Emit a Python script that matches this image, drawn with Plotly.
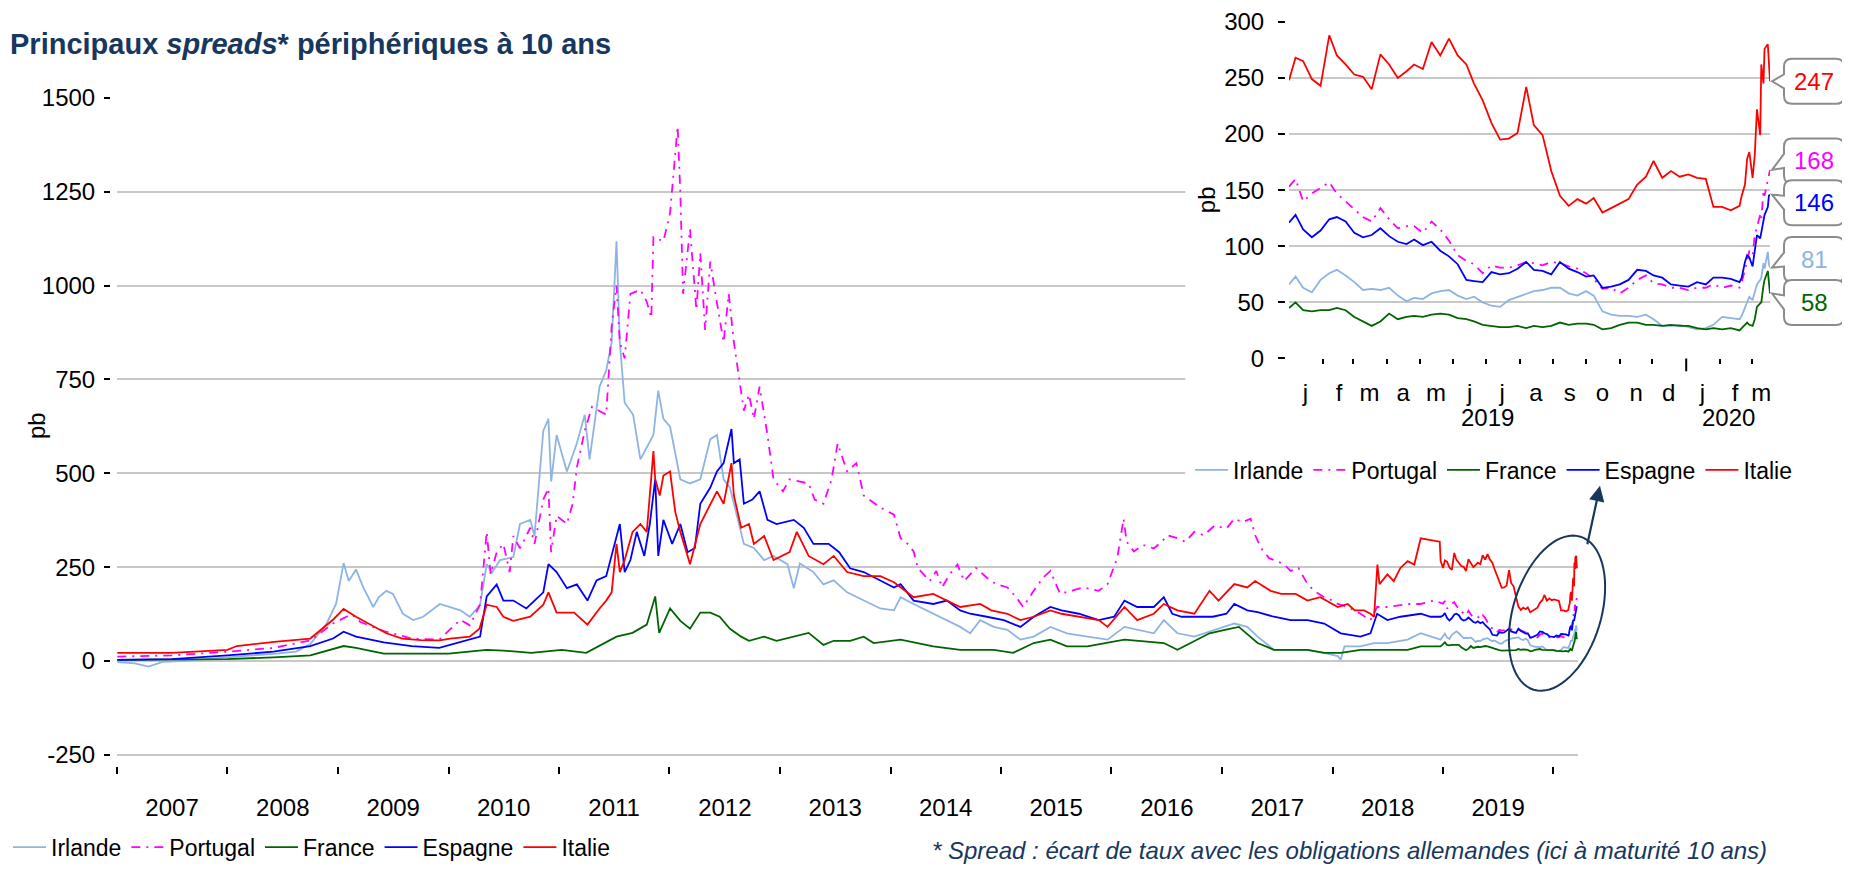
import numpy as np
import plotly.graph_objects as go

# page is 1850x869; the html body keeps an 8px margin, so the figure is sized to fit inside it
PAGE_W, PAGE_H, BODY = 1850, 869, 8
W, H = PAGE_W - BODY, PAGE_H - BODY
FONT = "Liberation Sans, Arial, sans-serif"

SERIES = ["Irlande", "Portugal", "France", "Espagne", "Italie"]
COLORS = {"Irlande": "#8DB4E2", "Portugal": "#FF00FF", "France": "#006400",
          "Espagne": "#0000FF", "Italie": "#FF0000"}

# ---------------- main chart readings 2007-2018 (date, spread in pb) ----------------
irl_main = [("2007-01-02",-3),("2007-03-01",-6),("2007-04-15",-15),("2007-06-01",-2),("2007-08-01",0),("2007-11-01",5),
 ("2008-02-01",12),("2008-06-12",20),("2008-08-15",25),("2008-10-01",45),("2008-11-24",100),("2008-12-25",152),
 ("2009-01-19",261),("2009-02-05",213),("2009-03-01",244),("2009-03-25",196),("2009-04-27",144),("2009-05-15",170),
 ("2009-06-09",187),("2009-07-01",179),("2009-08-03",126),("2009-09-06",109),("2009-10-09",118),("2009-12-03",152),
 ("2010-01-06",144),("2010-02-09",135),("2010-03-12",118),("2010-04-15",150),("2010-05-07",258),("2010-05-25",236),
 ("2010-06-20",269),("2010-07-22",275),("2010-08-03",277),("2010-08-25",365),("2010-09-28",376),("2010-10-12",333),
 ("2010-11-10",613),("2010-11-27",645),("2010-12-06",478),("2010-12-24",602),("2011-01-27",505),("2011-03-01",580),
 ("2011-03-27",656),("2011-04-12",537),("2011-05-15",731),("2011-06-06",774),("2011-06-24",849),("2011-07-10",1118),
 ("2011-07-21",849),("2011-08-06",688),("2011-09-03",656),("2011-09-27",537),("2011-10-18",570),("2011-11-09",602),
 ("2011-11-25",720),("2011-12-12",645),("2012-01-03",624),("2012-02-06",484),("2012-03-09",473),("2012-04-12",484),
 ("2012-05-15",591),("2012-06-06",602),("2012-06-28",484),("2012-07-19",462),("2012-09-03",312),("2012-10-06",301),
 ("2012-11-09",269),("2012-12-10",280),("2013-01-25",258),("2013-02-15",194),("2013-03-07",260),("2013-04-21",237),
 ("2013-05-24",204),("2013-06-27",215),("2013-08-10",183),("2013-10-04",161),("2013-11-28",140),("2014-01-12",135),
 ("2014-02-03",170),("2014-03-18",152),("2014-05-22",126),("2014-07-06",109),("2014-08-19",91),("2014-09-21",74),
 ("2014-10-24",109),("2014-12-08",91),("2015-01-22",83),("2015-03-06",57),("2015-04-19",65),("2015-06-13",91),
 ("2015-08-07",74),("2015-10-13",65),("2015-12-19",57),("2016-02-13",91),("2016-03-26",83),("2016-05-20",74),
 ("2016-06-22",109),("2016-08-06",74),("2016-10-01",65),("2016-12-07",83),("2017-02-10",100),("2017-03-25",91),
 ("2017-04-28",65),("2017-06-21",30),("2017-08-15",30),("2017-10-10",30),("2017-12-04",22),("2018-01-18",13),
 ("2018-01-28",4),("2018-02-09",39),("2018-04-03",39),("2018-05-18",48),("2018-07-01",48),("2018-09-06",57),
 ("2018-10-19",74),("2018-12-24",57)]

prt_main = [("2007-01-02",12),("2007-07-01",15),("2008-01-01",25),("2008-06-01",35),("2008-10-01",55),("2008-12-15",100),
 ("2009-02-15",125),("2009-03-15",104),("2009-06-01",80),("2009-09-01",60),("2009-12-01",57),("2010-02-09",110),
 ("2010-03-12",95),("2010-04-15",150),("2010-05-07",344),("2010-05-20",231),("2010-06-09",290),("2010-07-01",312),
 ("2010-07-22",237),("2010-08-03",333),("2010-08-25",300),("2010-09-28",355),("2010-10-12",312),("2010-11-10",430),
 ("2010-11-27",460),("2010-12-06",290),("2010-12-24",387),("2011-01-27",365),("2011-02-15",419),("2011-03-01",516),
 ("2011-03-27",613),("2011-04-20",677),("2011-06-06",656),("2011-06-24",892),("2011-07-10",1000),("2011-07-21",849),
 ("2011-08-06",806),("2011-08-25",978),("2011-09-27",989),("2011-10-18",957),("2011-11-02",914),("2011-11-09",1129),
 ("2011-12-12",1118),("2012-01-03",1193),("2012-01-28",1424),("2012-02-06",1247),("2012-02-15",978),("2012-03-09",1150),
 ("2012-03-30",935),("2012-04-12",1086),("2012-04-28",882),("2012-05-15",1064),("2012-06-01",978),("2012-06-28",849),
 ("2012-07-15",978),("2012-08-01",849),("2012-09-03",667),("2012-09-20",710),("2012-10-06",645),("2012-10-25",731),
 ("2012-11-20",602),("2012-12-10",484),("2013-01-10",452),("2013-02-01",484),("2013-04-05",473),("2013-04-25",430),
 ("2013-05-24",419),("2013-06-20",484),("2013-07-10",580),("2013-08-10",505),("2013-09-10",527),("2013-10-04",441),
 ("2013-11-28",409),("2013-12-20",400),("2014-01-12",390),("2014-02-03",327),("2014-02-20",318),("2014-03-18",292),
 ("2014-04-01",248),("2014-05-10",213),("2014-06-01",240),("2014-06-20",196),("2014-07-15",231),("2014-08-10",257),
 ("2014-09-01",213),("2014-10-10",248),("2014-11-15",222),("2014-12-15",205),("2015-01-22",196),("2015-02-20",170),
 ("2015-03-15",144),("2015-04-19",187),("2015-05-20",222),("2015-06-13",240),("2015-07-15",179),("2015-08-20",187),
 ("2015-10-01",196),("2015-11-20",187),("2015-12-19",205),("2016-01-20",274),("2016-02-10",379),("2016-02-20",318),
 ("2016-03-15",292),("2016-04-15",309),("2016-05-20",300),("2016-06-15",318),("2016-07-05",335),("2016-08-06",327),
 ("2016-09-01",318),("2016-10-01",344),("2016-11-01",335),("2016-12-07",361),("2017-01-15",353),("2017-02-10",379),
 ("2017-03-10",370),("2017-04-05",379),("2017-04-20",335),("2017-05-10",300),("2017-06-05",274),("2017-07-01",266),
 ("2017-07-25",257),("2017-08-15",240),("2017-09-10",248),("2017-10-10",205),("2017-11-01",187),("2017-12-04",170),
 ("2018-01-01",161),("2018-01-18",152),("2018-02-20",144),("2018-04-03",126),("2018-05-06",109),("2018-05-28",144),
 ("2018-07-01",144),("2018-09-06",152),("2018-10-19",152),("2018-12-01",161)]

fra_main = [("2007-01-02",3),("2007-07-01",3),("2008-01-01",5),("2008-06-01",10),("2008-10-01",15),("2009-01-19",40),
 ("2009-03-01",35),("2009-06-01",20),("2009-10-01",20),("2010-01-01",20),("2010-05-07",30),("2010-07-01",28),
 ("2010-10-01",22),("2011-01-10",30),("2011-04-01",22),("2011-07-10",65),("2011-09-01",75),("2011-10-18",97),
 ("2011-11-15",172),("2011-11-28",75),("2012-01-03",140),("2012-02-06",107),("2012-03-09",86),("2012-04-12",129),
 ("2012-05-15",129),("2012-06-15",118),("2012-07-19",86),("2012-08-25",65),("2012-09-20",54),("2012-11-09",65),
 ("2012-12-20",54),("2013-04-05",75),("2013-05-24",43),("2013-06-27",54),("2013-08-20",54),("2013-10-04",65),
 ("2013-11-06",48),("2014-02-03",57),("2014-05-22",39),("2014-08-19",30),("2014-12-08",30),("2015-02-10",22),
 ("2015-04-19",48),("2015-06-13",57),("2015-08-07",39),("2015-10-13",39),("2016-02-13",57),("2016-06-22",48),
 ("2016-08-06",30),("2016-11-20",74),("2017-01-10",83),("2017-02-25",91),("2017-04-28",48),("2017-06-21",30),
 ("2017-10-10",30),("2017-12-04",22),("2018-01-28",22),("2018-04-03",30),("2018-07-01",30),("2018-09-06",30),
 ("2018-10-19",39),("2018-12-24",39)]

esp_main = [("2007-01-02",3),("2007-07-01",5),("2008-01-01",15),("2008-06-01",25),("2008-10-01",40),("2008-12-15",60),
 ("2009-01-19",78),("2009-03-01",65),("2009-06-01",50),("2009-09-01",40),("2009-12-01",35),("2010-02-09",50),
 ("2010-03-12",57),("2010-04-15",65),("2010-05-07",172),("2010-06-09",204),("2010-07-01",161),("2010-08-03",161),
 ("2010-09-15",140),("2010-11-10",183),("2010-11-27",258),("2010-12-24",237),("2011-01-27",194),("2011-03-01",204),
 ("2011-04-05",161),("2011-05-05",215),("2011-06-06",226),("2011-07-10",333),("2011-07-21",365),("2011-08-06",237),
 ("2011-08-25",269),("2011-09-15",344),("2011-10-10",280),("2011-10-28",365),("2011-11-15",484),("2011-11-25",280),
 ("2011-12-12",376),("2012-01-10",312),("2012-02-06",365),("2012-03-01",290),("2012-03-25",301),("2012-04-12",419),
 ("2012-05-15",462),("2012-06-06",505),("2012-06-28",527),("2012-07-24",618),("2012-08-01",527),("2012-08-20",537),
 ("2012-09-03",419),("2012-10-01",430),("2012-10-25",452),("2012-11-20",376),("2012-12-20",365),("2013-02-15",376),
 ("2013-03-20",355),("2013-04-21",312),("2013-06-10",312),("2013-07-15",290),("2013-08-20",247),("2013-10-04",237),
 ("2013-11-28",215),("2014-01-12",196),("2014-02-03",205),("2014-03-18",161),("2014-05-22",152),("2014-07-06",161),
 ("2014-08-19",135),("2014-09-21",126),("2014-11-15",118),("2015-01-10",109),("2015-03-06",91),("2015-04-19",118),
 ("2015-06-13",144),("2015-07-20",135),("2015-09-15",126),("2015-11-20",109),("2016-01-10",118),("2016-02-13",161),
 ("2016-03-26",144),("2016-05-20",144),("2016-06-22",170),("2016-07-20",126),("2016-08-20",118),("2016-10-15",118),
 ("2016-12-01",118),("2017-01-15",126),("2017-02-10",152),("2017-03-25",135),("2017-04-28",130),("2017-06-21",118),
 ("2017-08-15",109),("2017-10-10",109),("2017-12-04",100),("2018-01-28",74),("2018-04-03",65),("2018-05-06",74),
 ("2018-05-28",126),("2018-07-01",109),("2018-08-13",118),("2018-10-19",126),("2018-11-21",118),("2018-12-24",118)]

ita_main = [("2007-01-02",22),("2007-07-01",22),("2008-01-01",30),("2008-02-01",40),("2008-06-12",52),("2008-10-01",60),
 ("2008-12-15",110),("2009-01-19",139),("2009-03-01",118),("2009-06-09",74),("2009-08-01",60),("2009-10-01",56),
 ("2009-12-03",55),("2010-01-06",60),("2010-03-12",65),("2010-04-13",86),("2010-05-07",150),("2010-06-09",144),
 ("2010-07-01",118),("2010-08-03",107),("2010-09-28",118),("2010-11-10",150),("2010-11-27",183),("2010-12-24",129),
 ("2011-02-20",129),("2011-04-05",97),("2011-05-15",140),("2011-06-06",161),("2011-06-24",183),("2011-07-10",312),
 ("2011-07-21",237),("2011-08-06",269),("2011-09-01",344),("2011-09-27",365),("2011-10-18",344),("2011-11-09",559),
 ("2011-11-15",484),("2011-11-30",441),("2011-12-12",494),("2012-01-03",505),("2012-01-20",398),("2012-02-06",344),
 ("2012-03-01",280),("2012-03-09",258),("2012-04-12",365),("2012-05-15",419),("2012-06-06",452),("2012-06-28",419),
 ("2012-07-24",527),("2012-08-01",441),("2012-08-25",355),("2012-09-20",365),("2012-10-06",312),("2012-11-09",333),
 ("2012-12-10",269),("2013-02-01",290),("2013-02-25",344),("2013-04-05",280),("2013-05-24",258),("2013-06-27",280),
 ("2013-08-10",237),("2013-10-04",226),("2013-11-28",226),("2014-01-12",210),("2014-02-03",196),("2014-03-18",170),
 ("2014-05-22",179),("2014-07-06",161),("2014-08-19",144),("2014-10-24",152),("2014-11-30",135),("2015-01-22",126),
 ("2015-03-06",109),("2015-04-19",118),("2015-06-13",135),("2015-07-20",126),("2015-09-15",118),("2015-11-20",109),
 ("2015-12-19",91),("2016-02-13",144),("2016-03-26",109),("2016-05-20",126),("2016-06-22",152),("2016-08-06",135),
 ("2016-10-01",126),("2016-11-20",187),("2016-12-20",161),("2017-02-10",205),("2017-03-25",196),("2017-04-20",213),
 ("2017-06-10",187),("2017-07-15",179),("2017-09-01",179),("2017-10-10",161),("2017-11-21",170),("2018-01-18",144),
 ("2018-02-20",152),("2018-03-15",135),("2018-04-15",135),("2018-05-06",126),("2018-05-18",118),("2018-05-29",257),
 ("2018-06-05",205),("2018-07-01",231),("2018-07-22",213),("2018-08-13",248),("2018-09-06",266),("2018-09-28",257),
 ("2018-10-19",327),("2018-12-21",318),("2018-12-24",266)]

# ---------------- inset readings (2019-01-01 .. 2020-03-18) ----------------
inset_dates = ["2019-01-01","2019-01-07","2019-01-14","2019-01-22","2019-01-30","2019-02-07","2019-02-14","2019-02-22",
 "2019-03-02","2019-03-10","2019-03-18","2019-03-26","2019-04-03","2019-04-11","2019-04-19","2019-04-26","2019-05-04",
 "2019-05-12","2019-05-20","2019-05-28","2019-06-05","2019-06-13","2019-06-20","2019-06-28","2019-07-06","2019-07-14",
 "2019-07-22","2019-07-30","2019-08-07","2019-08-14","2019-08-22","2019-08-30","2019-09-07","2019-09-15","2019-09-23",
 "2019-10-01","2019-10-08","2019-10-16","2019-10-24","2019-11-01","2019-11-09","2019-11-17","2019-11-25","2019-12-02",
 "2019-12-10","2019-12-18","2019-12-26","2020-01-03","2020-01-11","2020-01-19","2020-01-26","2020-02-03","2020-02-11",
 "2020-02-19","2020-02-21","2020-02-24","2020-02-26","2020-02-28","2020-03-02","2020-03-04","2020-03-06","2020-03-09",
 "2020-03-10","2020-03-12","2020-03-13","2020-03-16","2020-03-17","2020-03-18"]
ins_ita = [248,268,265,249,243,288,270,262,253,251,240,271,262,250,256,262,258,282,270,285,270,262,245,230,210,195,
 196,201,242,208,199,167,145,136,142,138,143,130,134,138,142,155,162,176,161,167,162,164,161,160,135,135,132,136,
 145,155,178,184,161,181,222,199,262,245,276,280,265,247]
ins_prt = [153,160,140,147,152,157,147,140,133,126,122,134,124,116,118,118,112,122,115,105,92,87,84,76,83,81,
 81,83,86,85,83,86,85,82,80,76,71,62,63,58,63,70,74,67,66,63,63,61,63,63,66,63,65,63,
 68,78,86,96,92,110,118,128,124,150,145,160,165,168]
ins_esp = [121,128,115,108,114,124,126,122,112,108,110,116,109,104,102,106,101,104,96,91,84,70,69,68,77,75,
 76,80,86,79,78,75,86,80,77,73,74,63,64,66,70,79,78,74,72,66,65,64,68,66,72,72,71,68,
 72,86,92,90,82,95,110,107,112,124,128,135,145,146]
ins_irl = [66,73,63,59,70,76,79,74,68,61,62,61,63,56,51,54,53,58,60,61,56,53,55,50,47,46,
 52,55,58,60,61,63,63,58,56,60,56,42,39,38,38,37,39,35,29,29,30,28,26,27,30,37,36,35,
 38,45,49,55,52,60,66,70,72,85,80,95,84,81]
ins_fra = [45,50,43,42,43,43,45,43,37,33,29,33,40,35,37,38,37,39,40,39,36,35,33,30,29,28,
 28,29,27,29,28,29,32,30,31,31,30,26,27,30,32,32,30,30,29,30,29,29,27,26,27,26,27,25,
 27,30,32,30,29,35,46,49,50,65,70,78,66,58]

main_data = {"Irlande": irl_main, "Portugal": prt_main, "France": fra_main,
             "Espagne": esp_main, "Italie": ita_main}
inset_data = {"Irlande": ins_irl, "Portugal": ins_prt, "France": ins_fra,
              "Espagne": ins_esp, "Italie": ins_ita}
last_labels = {"Italie": 247, "Portugal": 168, "Espagne": 146, "Irlande": 81, "France": 58}
bubble_dy = {"Italie": 0, "Portugal": 9, "Espagne": -8, "Irlande": 8, "France": -9}

years = list(range(2007, 2020))
year_labels = [str(y) for y in years]
y_main_ticks = list(range(-250, 1501, 250))
y_main_text = [str(v) for v in y_main_ticks]
month_letters = ["j", "f", "m", "a", "m", "j", "j", "a", "s", "o", "n", "d", "j", "f", "m"]

DASH = {"Portugal": "9px,6px,2px,6px"}


def px(p):
    """page x pixel -> paper fraction"""
    return (p - BODY) / W


def py(p):
    """page y pixel -> paper fraction"""
    return 1 - (p - BODY) / H


fig = go.Figure()

# white patch hiding the main grid behind the inset area
fig.add_trace(go.Scatter(x=["2016-09-01", "2020-03-31", "2020-03-31", "2016-09-01"],
                         y=[470, 470, 1530, 1530], fill="toself", fillcolor="white",
                         line=dict(width=0), mode="lines", hoverinfo="skip", showlegend=False,
                         xaxis="x", yaxis="y"))

for s in SERIES:
    d, v = zip(*main_data[s])
    fig.add_trace(go.Scatter(
        x=list(d) + inset_dates, y=list(v) + inset_data[s], mode="lines", name=s,
        line=dict(color=COLORS[s], width=1.8, dash=DASH.get(s, "solid")),
        xaxis="x", yaxis="y", legend="legend"))

for s in SERIES:
    fig.add_trace(go.Scatter(
        x=inset_dates, y=inset_data[s], mode="lines", name=s,
        line=dict(color=COLORS[s], width=1.8, dash=DASH.get(s, "solid")),
        xaxis="x2", yaxis="y2", legend="legend2"))

GRID = "#c8c8c8"
TICKF = dict(family=FONT, size=24, color="black")
LEGF = dict(family=FONT, size=23, color="black")

fig.update_layout(
    width=W, height=H, template="none",
    margin=dict(l=0, r=0, t=0, b=0),
    paper_bgcolor="white", plot_bgcolor="white",
    font=dict(family=FONT, size=23, color="black"),
    xaxis=dict(type="date", domain=[px(117), px(1578)],
               range=["2007-01-01", "2020-03-22"], anchor="y",
               tickmode="array", tickvals=[f"{y}-07-02" for y in years], ticktext=year_labels,
               ticks="outside", ticklen=7, tickcolor="rgba(0,0,0,0)", ticklabelstandoff=13,
               minor=dict(tickmode="array", tickvals=[f"{y}-01-01" for y in range(2007, 2021)],
                          ticks="outside", ticklen=7, tickwidth=2, tickcolor="black", showgrid=False),
               showgrid=False, zeroline=False, showline=False, tickfont=TICKF),
    yaxis=dict(domain=[py(776), py(99)], range=[-280, 1500],
               anchor="free", position=px(110),
               tickmode="array", tickvals=y_main_ticks, ticktext=y_main_text,
               ticks="outside", ticklen=6, tickwidth=2, tickcolor="black", ticklabelstandoff=4,
               showgrid=True, gridcolor=GRID, gridwidth=2, zeroline=False, showline=False,
               tickfont=TICKF, ticklabeloverflow="allow"),
    xaxis2=dict(type="date", domain=[px(1289), px(1770)],
                range=["2019-01-01", "2020-03-18"], anchor="y2",
                tickmode="array",
                tickvals=[f"2019-{m:02d}-16" for m in range(1, 13)] + ["2020-01-16", "2020-02-15", "2020-03-10"],
                ticktext=month_letters,
                ticks="outside", ticklen=5, tickcolor="rgba(0,0,0,0)", ticklabelstandoff=8,
                minor=dict(tickmode="array",
                           tickvals=[f"2019-{m:02d}-01" for m in range(2, 13)] + ["2020-02-01", "2020-03-01"],
                           ticks="outside", ticklen=5, tickwidth=1.5, tickcolor="black", showgrid=False),
                showgrid=False, zeroline=False, showline=False, tickfont=TICKF),
    yaxis2=dict(domain=[py(363), py(22)], range=[0, 300],
                anchor="free", position=px(1285),
                tickmode="array", tickvals=list(range(0, 301, 50)),
                ticks="outside", ticklen=7, tickwidth=2, tickcolor="black", ticklabelstandoff=9,
                showgrid=True, gridcolor=GRID, gridwidth=2, zeroline=False, showline=False,
                tickfont=TICKF, ticklabeloverflow="allow"),
    legend=dict(orientation="h", x=0.0, y=py(858), xanchor="left", yanchor="middle",
                font=LEGF, bgcolor="rgba(255,255,255,0)", itemwidth=33, traceorder="normal"),
    legend2=dict(orientation="h", x=px(1190), y=py(476), xanchor="left", yanchor="middle",
                 font=LEGF, bgcolor="white", itemwidth=33, traceorder="normal"),
    showlegend=True,
)

annotations = [
    dict(text="<b>Principaux <i>spreads</i>* périphériques à 10 ans</b>", xref="paper", yref="paper",
         x=px(8), y=py(44), xanchor="left", yanchor="middle", showarrow=False,
         font=dict(family=FONT, size=29, color="#17375E")),
    dict(text="<i>* Spread : écart de taux avec les obligations allemandes (ici à maturité 10 ans)</i>",
         xref="paper", yref="paper", x=px(930), y=py(861), xanchor="left", yanchor="middle",
         showarrow=False, font=dict(family=FONT, size=24, color="#17375E")),
    dict(text="pb", textangle=-90, xref="paper", yref="paper", x=px(21), y=py(431),
         showarrow=False, font=dict(family=FONT, size=24, color="black")),
    dict(text="pb", textangle=-90, xref="paper", yref="paper", x=px(1206), y=py(187),
         showarrow=False, font=dict(family=FONT, size=24, color="black")),
    dict(text="2019", xref="x2", yref="paper", x="2019-07-02", y=py(423), showarrow=False,
         font=dict(family=FONT, size=24, color="black")),
    dict(text="2020", xref="x2", yref="paper", x="2020-02-09", y=py(423), showarrow=False,
         font=dict(family=FONT, size=24, color="black")),
    # arrow from the highlighted ellipse to the inset
    dict(text="", xref="paper", yref="paper", x=px(1600), y=py(492),
         ax=-13, ay=60, showarrow=True, arrowhead=2, arrowsize=1.4, arrowwidth=2.2, arrowcolor="#17375E"),
]

shapes = []
TIP_X = px(1772)


def bubble_path(dy, x0=12, w=60, h=45, r=8, base=7):
    x1 = x0 + w
    top = dy + h / 2
    bot = dy - h / 2
    return (f"M0,0 L{x0},{dy + base} L{x0},{top - r} Q{x0},{top} {x0 + r},{top} "
            f"L{x1 - r},{top} Q{x1},{top} {x1},{top - r} L{x1},{bot + r} Q{x1},{bot} {x1 - r},{bot} "
            f"L{x0 + r},{bot} Q{x0},{bot} {x0},{bot + r} L{x0},{dy - base} Z")


for s in ["Italie", "Portugal", "Espagne", "Irlande", "France"]:
    val = inset_data[s][-1]
    dy = bubble_dy[s]
    shapes.append(dict(type="path", xref="paper", yref="y2", xsizemode="pixel", ysizemode="pixel",
                       xanchor=TIP_X, yanchor=val, path=bubble_path(dy),
                       line=dict(color="#8C8C8C", width=2), fillcolor="white", layer="above"))
    annotations.append(dict(text=str(last_labels[s]), xref="paper", yref="y2",
                            x=px(1772 + 42), y=val, yshift=dy, showarrow=False,
                            xanchor="center", yanchor="middle",
                            font=dict(family=FONT, size=24, color=COLORS[s])))

# tilted ellipse highlighting the latest move
t = np.linspace(0, 2 * np.pi, 73)
a, b, th = 80.0, 44.0, np.deg2rad(17)
ex = a * np.cos(t) * np.sin(th) + b * np.sin(t) * np.cos(th)
ey = a * np.cos(t) * np.cos(th) - b * np.sin(t) * np.sin(th)
epath = "M" + " L".join(f"{x:.1f},{y:.1f}" for x, y in zip(ex, ey)) + " Z"
shapes.append(dict(type="path", xref="paper", yref="paper", xsizemode="pixel", ysizemode="pixel",
                   xanchor=px(1557), yanchor=py(621), path=epath,
                   line=dict(color="#17375E", width=2), layer="above"))

# longer tick at the year boundary of the inset
shapes.append(dict(type="line", xref="x2", yref="paper", x0="2020-01-01", x1="2020-01-01",
                   y0=py(363), y1=py(376), line=dict(color="black", width=2)))

fig.update_layout(annotations=annotations, shapes=shapes)
fig.write_html("out.html")
